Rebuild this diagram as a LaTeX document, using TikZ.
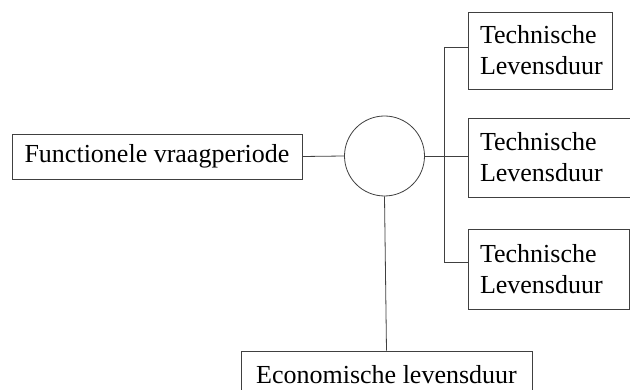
\documentclass[tikz,border=0pt]{standalone}
\usepackage{fontspec}
\setmainfont{Liberation Serif}
\begin{document}
\begin{tikzpicture}[x=1pt,y=-1pt,
  wire/.style={draw=black!75,line width=0.8pt},
  box/.style={wire,rectangle,inner sep=0pt,font=\fontsize{26}{31}\selectfont,text=black},
  tbox/.style={box,align=left,inner xsep=12pt}]
\useasboundingbox (0,0) rectangle (630,390);
\clip (0,0) rectangle (630,390);
\fill[white] (0,0) rectangle (630,390);

% main boxes
\node[box,minimum width=290pt,minimum height=45pt] (fv) at (157,156.5) {Functionele vraagperiode};
\node[wire,circle,minimum size=80pt,inner sep=0pt] (c) at (384.5,156) {};
\node[box,minimum width=291pt,minimum height=47pt] (eco) at (386.5,374.5) {Economische levensduur};

% technical lifetimes
\node[tbox,text width=120pt,minimum height=77pt] (t1) at (540,50.5) {Technische\\Levensduur};
\node[tbox,text width=140pt,minimum height=79pt] (t2) at (550,157.5) {Technische\\Levensduur};
\node[tbox,text width=137pt,minimum height=80pt] (t3) at (548.5,269.5) {Technische\\Levensduur};

% branch points
\coordinate (jt) at (444,47);
\coordinate (jm) at (444,156);
\coordinate (jb) at (444,262);

% connectors
\draw[wire] (fv.east) -- (c.west);
\draw[wire] (c.east) -- (jm -| t2.west);
\draw[wire] (jt) -- (jb);
\draw[wire] (jt) -- (jt -| t1.west);
\draw[wire] (jb) -- (jb -| t3.west);
\draw[wire] (c.south) -- (eco.north);
\end{tikzpicture}
\end{document}
